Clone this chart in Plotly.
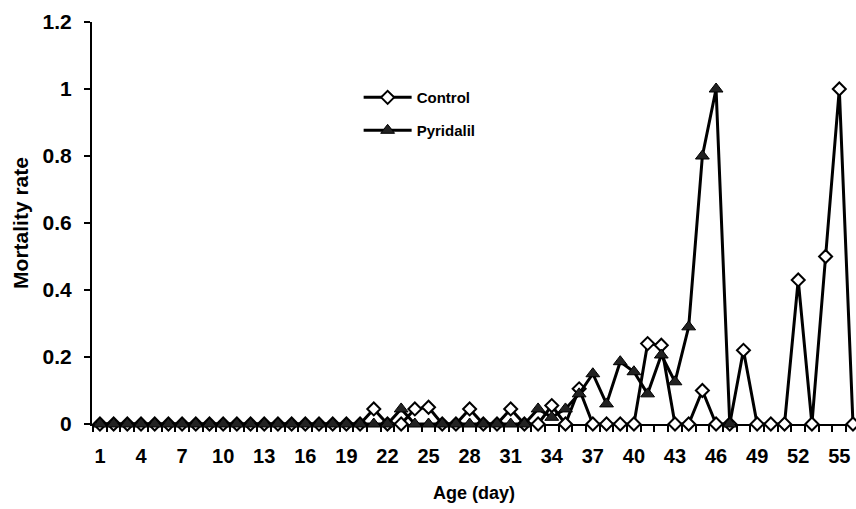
import plotly.graph_objects as go

days = list(range(1, 57))

control = [0]*20 + [
    0.045, 0, 0, 0.045, 0.05, 0, 0, 0.045, 0, 0,   # 21-30
    0.045, 0, 0, 0.055, 0, 0.105, 0, 0, 0, 0,      # 31-40
    0.24, 0.235, 0, 0, 0.10, 0, 0, 0.22, 0, 0,     # 41-50
    0, 0.43, 0, 0.50, 1.0, 0                       # 51-56
]

pyr_days = list(range(1, 48))
pyridalil = [0]*22 + [
    0.045, 0, 0, 0, 0, 0, 0, 0, 0, 0,              # 23-32
    0.045, 0.02, 0.045, 0.09, 0.15, 0.06, 0.186, 0.156, 0.09, 0.206,  # 33-42
    0.126, 0.29, 0.80, 1.0, 0                      # 43-47
]

tick_days = list(range(1, 57, 3))
y_ticks = [0, 0.2, 0.4, 0.6, 0.8, 1, 1.2]
y_labels = ["0", "0.2", "0.4", "0.6", "0.8", "1", "1.2"]

FONT = "Liberation Sans, Arial, sans-serif"

fig = go.Figure()
fig.add_trace(go.Scatter(
    x=days, y=control, name="Control", mode="lines+markers",
    line=dict(color="black", width=3),
    marker=dict(symbol="diamond", size=10, color="white",
                line=dict(color="black", width=2)),
    cliponaxis=False, legend="legend", showlegend=True,
))
fig.add_trace(go.Scatter(
    x=pyr_days, y=pyridalil, name="Pyridalil", mode="lines+markers",
    line=dict(color="black", width=3),
    marker=dict(symbol="triangle-up", size=12, color="#222222",
                line=dict(color="black", width=1)),
    cliponaxis=False, legend="legend2", showlegend=True,
))

leg_common = dict(xanchor="left", yanchor="top", bgcolor="rgba(0,0,0,0)",
                  itemwidth=48, visible=True,
                  font=dict(size=15, family=FONT, weight="bold"))

fig.update_layout(
    width=856, height=509,
    margin=dict(l=92, r=0, t=22, b=85, autoexpand=False),
    paper_bgcolor="white", plot_bgcolor="white",
    showlegend=True,
    font=dict(family=FONT, size=18, color="black", weight="bold"),
    legend=dict(x=0.349, y=0.853, **leg_common),
    legend2=dict(x=0.349, y=0.771, **leg_common),
    xaxis=dict(
        range=[0.42, 56.22], showgrid=False, zeroline=False, automargin=False,
        showline=True, linecolor="black", linewidth=2,
        tickmode="array", tickvals=tick_days, ticktext=[str(d) for d in tick_days],
        ticks="", ticklabelstandoff=13,
        tickfont=dict(size=20, family=FONT, weight="bold"),
        minor=dict(ticks="outside", ticklen=6, tickwidth=2, tickcolor="black",
                   tickmode="linear", tick0=0.5, dtick=1, showgrid=False),
        title=dict(text="Age (day)", standoff=20,
                   font=dict(size=18, family=FONT, weight="bold")),
        layer="below traces",
    ),
    yaxis=dict(
        range=[0, 1.2], showgrid=False, zeroline=False, automargin=False,
        showline=True, linecolor="black", linewidth=2,
        tickmode="array", tickvals=y_ticks, ticktext=y_labels,
        ticks="outside", ticklen=6, tickwidth=2, tickcolor="black",
        ticklabelstandoff=8,
        tickfont=dict(size=21, family=FONT, weight="bold"),
        title=dict(text="Mortality rate", standoff=8,
                   font=dict(size=21, family=FONT, weight="bold")),
        layer="below traces",
    ),
)

# remove the page's default body margin so the figure fills the window exactly
fig.write_html(
    "out.html",
    config={"displayModeBar": False},
    post_script="document.body.style.margin='0';document.body.style.overflow='hidden';",
)
